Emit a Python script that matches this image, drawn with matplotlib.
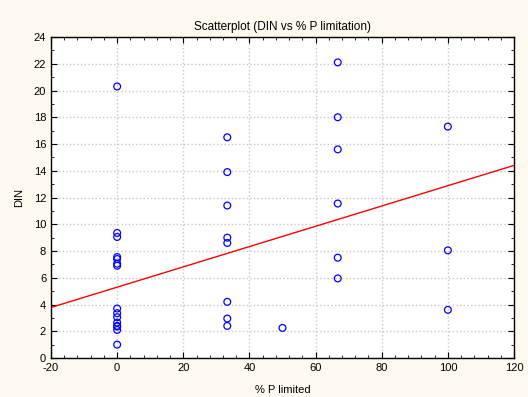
import numpy as np
import matplotlib.pyplot as plt
from matplotlib.ticker import MultipleLocator

plt.rcParams['font.family'] = ['Liberation Sans', 'DejaVu Sans']
plt.rcParams['axes.unicode_minus'] = False

# % P limited (x) and DIN (y)
p_limited = [0, 0, 0, 0, 0, 0, 0, 0, 0, 0, 0, 0, 0, 0, 0,
             33.3, 33.3, 33.3, 33.3, 33.3, 33.3, 33.3, 33.3,
             50,
             66.7, 66.7, 66.7, 66.7, 66.7, 66.7,
             100, 100, 100]
din = [20.3, 9.35, 9.05, 7.55, 7.4, 7.05, 6.9, 3.7, 3.35, 3.05, 2.65, 2.4, 2.35, 2.1, 1.0,
       16.5, 13.9, 11.4, 9.0, 8.6, 4.2, 2.95, 2.4,
       2.25,
       22.1, 18.0, 15.6, 11.55, 7.5, 5.95,
       17.3, 8.05, 3.6]

# fitted line as drawn in the chart (ends at the axis limits)
fit_x = [-20, 120]
fit_y = [3.78, 14.4]

fig = plt.figure(figsize=(5.28, 3.97), dpi=100, facecolor='#fef9ee')
ax = fig.add_axes([0.0966, 0.0982, 0.8769, 0.8086])
ax.set_facecolor('white')

ax.plot(fit_x, fit_y, color='red', lw=1, zorder=2)
ax.scatter(p_limited, din, s=24, facecolors='none', edgecolors='blue', linewidths=0.9, zorder=3)

ax.set_xlim(-20, 120)
ax.set_ylim(0, 24)
ax.xaxis.set_major_locator(MultipleLocator(20))
ax.xaxis.set_minor_locator(MultipleLocator(4))
ax.yaxis.set_major_locator(MultipleLocator(2))
ax.yaxis.set_minor_locator(MultipleLocator(1))
ax.tick_params(which='both', direction='in', top=True, right=True, labelsize=8, color='black')
ax.tick_params(which='major', length=4)
ax.tick_params(which='minor', length=2)
ax.grid(True, which='major', color='#c8c8c8', linestyle=':', linewidth=1, zorder=0)
for s in ax.spines.values():
    s.set_linewidth(1)

ax.set_title('Scatterplot (DIN vs % P limitation)', fontsize=8.5, pad=5)
ax.set_xlabel('% P limited', fontsize=8, labelpad=9)
ax.set_ylabel('DIN', fontsize=8, labelpad=7)

fig.savefig('out.png', dpi=100, facecolor=fig.get_facecolor())
